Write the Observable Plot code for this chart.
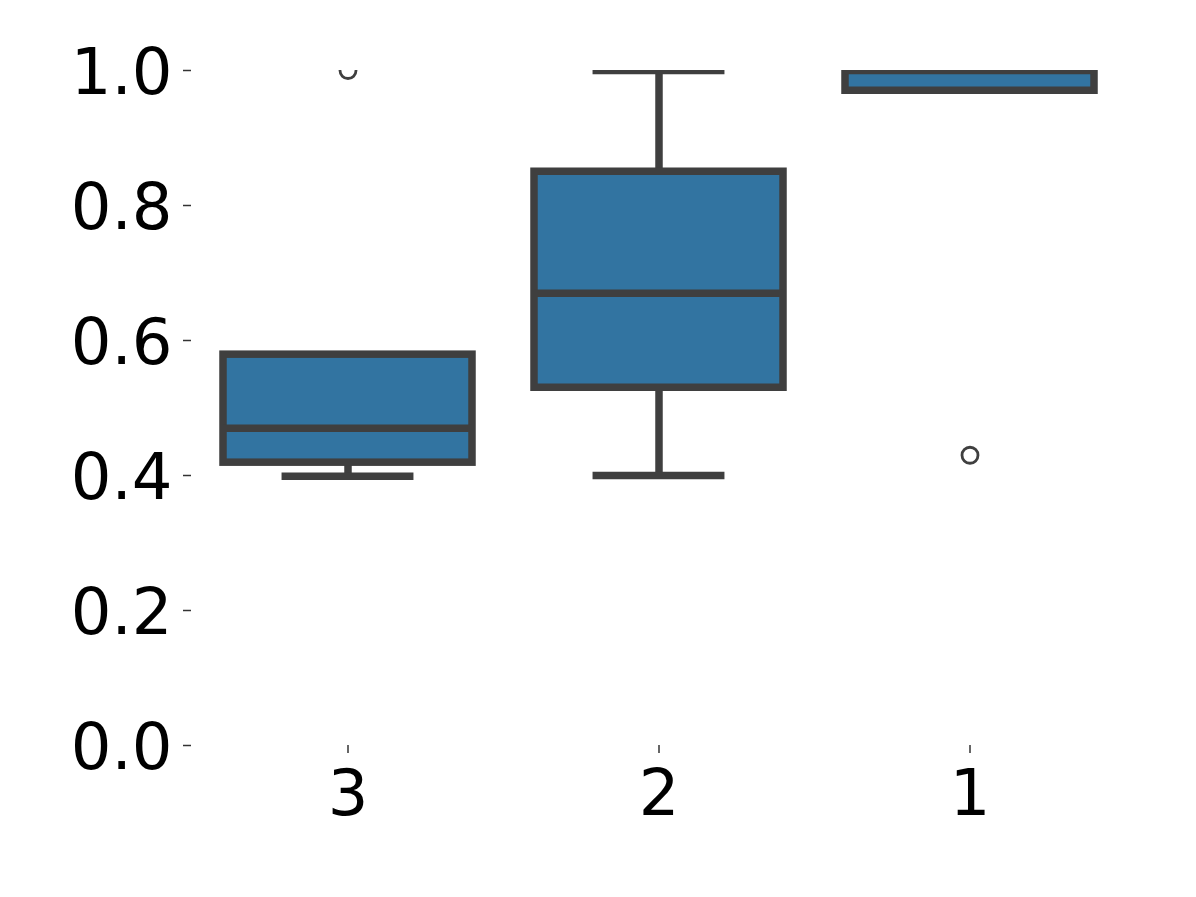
<!DOCTYPE html>
<html>
<head>
<meta charset="utf-8">
<script src="https://cdn.jsdelivr.net/npm/d3@7"></script>
<script src="https://cdn.jsdelivr.net/npm/@observablehq/plot@0.6"></script>
<style>
  html, body { margin: 0; padding: 0; background: #ffffff; }
  #chart svg { display: block; }
</style>
</head>
<body>
<div id="chart"></div>
<script>
// Categories (x order as shown) and per-box summary values
const categories = ["3", "2", "1"];
const q1 = [0.419, 0.53, 0.97];
const median = [0.47, 0.67, 1.0];
const q3 = [0.579, 0.85, 1.0];
const whiskerLow = [0.399, 0.40, 0.97];
const whiskerHigh = [0.579, 1.0, 1.0];
const outlierCategories = ["3", "1"];
const outlierValues = [1.0, 0.43];
const yTicks = [0, 0.2, 0.4, 0.6, 0.8, 1.0];

const boxes = categories.map((c, i) => ({
  cat: c, q1: q1[i], med: median[i], q3: q3[i], lo: whiskerLow[i], hi: whiskerHigh[i]
}));
const outliers = outlierCategories.map((c, i) => ({cat: c, v: outlierValues[i]}));
// caps that coincide with a box edge are hidden by it in the original
const lowCaps = boxes.filter(d => d.lo < d.q1);
const highCaps = boxes.filter(d => d.hi > d.q3);

const boxFill = "#3274a1";
const edge = "#3f3f3f";
const lw = 7.5;

const chart = Plot.plot({
  width: 1196,
  height: 897,
  marginLeft: 191,
  marginRight: 70,
  marginTop: 70,
  marginBottom: 152,
  style: {fontFamily: "DejaVu Sans", fontSize: "64px", color: "#000", background: "#fff"},
  x: {type: "band", domain: categories, paddingInner: 0.2, paddingOuter: 0.1, align: 0.5},
  y: {domain: [0, 1.0]},
  marks: [
    // y tick marks
    Plot.axisY({ticks: yTicks, tickSize: 8, text: null, stroke: "#333", strokeWidth: 1.5, label: null}),
    // y tick labels
    Plot.axisY({ticks: yTicks, tickFormat: d3.format(".1f"), tickSize: 0, tickPadding: 19,
      fill: "#000", label: null, fontSize: 64, dy: 3.5}),
    Plot.axisX({tickSize: 8, tickPadding: 16, stroke: "#333", strokeWidth: 1.5, fill: "#000",
      label: null, fontSize: 64}),
    // whisker stems
    Plot.ruleX(lowCaps, {x: "cat", y1: "lo", y2: "q1", stroke: edge, strokeWidth: lw}),
    Plot.ruleX(highCaps, {x: "cat", y1: "q3", y2: "hi", stroke: edge, strokeWidth: lw, clip: true}),
    // caps (half the box width)
    Plot.tickY(lowCaps, {x: "cat", y: "lo", stroke: edge, strokeWidth: lw, strokeLinecap: "square",
      insetLeft: 62.3, insetRight: 62.3}),
    Plot.tickY(highCaps, {x: "cat", y: "hi", stroke: edge, strokeWidth: lw, strokeLinecap: "square",
      insetLeft: 62.3, insetRight: 62.3, clip: true}),
    // boxes
    Plot.barY(boxes, {x: "cat", y1: "q1", y2: "q3", fill: boxFill, stroke: edge, strokeWidth: lw,
      clip: true}),
    // medians
    Plot.tickY(boxes, {x: "cat", y: "med", stroke: edge, strokeWidth: lw, clip: true}),
    // outliers
    Plot.dot(outliers, {x: "cat", y: "v", r: 8, fill: "none", stroke: edge, strokeWidth: 2.8,
      clip: true})
  ]
});
document.getElementById("chart").appendChild(chart);
</script>
</body>
</html>
